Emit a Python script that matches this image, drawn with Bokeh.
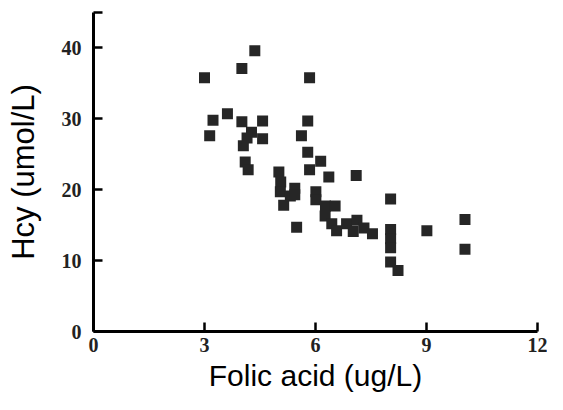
from bokeh.plotting import figure
from bokeh.models import Range1d, FixedTicker
from bokeh.embed import file_html
from bokeh.resources import INLINE

folic = [4.36, 4.01, 3.00, 5.84,
         3.23, 3.62, 3.14, 4.01, 4.57, 4.27, 4.57, 4.05, 4.15,
         4.10, 4.18, 5.01, 5.84, 5.79, 5.62, 5.79, 6.14, 6.36, 7.10,
         5.06, 5.44, 5.05, 5.32, 5.14, 5.44,
         5.49, 6.01, 6.01, 6.27, 6.53,
         6.26, 6.44, 6.57, 6.84, 7.02, 7.12, 7.31, 7.54,
         8.03, 8.03, 8.03, 8.03, 8.03, 8.23, 9.01, 10.04, 10.04]
hcy = [39.6, 37.1, 35.8, 35.8,
       29.8, 30.7, 27.6, 29.6, 29.7, 28.1, 27.2, 26.2, 27.3,
       23.9, 22.8, 22.5, 22.8, 29.7, 27.6, 25.3, 24.0, 21.8, 22.0,
       21.1, 20.2, 19.7, 19.1, 17.8, 19.3,
       14.7, 19.7, 18.6, 17.7, 17.7,
       16.3, 15.2, 14.2, 15.2, 14.1, 15.7, 14.6, 13.8,
       18.7, 14.4, 13.1, 11.8, 9.8, 8.6, 14.2, 15.8, 11.6]

x_ticks = [0, 3, 6, 9, 12]
y_ticks = [0, 10, 20, 30, 40, 45]
y_tick_labels = {0: "0", 10: "10", 20: "20", 30: "30", 40: "40", 45: ""}

p = figure(width=547, height=394, output_backend="svg", toolbar_location=None,
           x_range=Range1d(0, 12), y_range=Range1d(0, 45),
           min_border_left=93, min_border_right=10, min_border_top=12, min_border_bottom=62)
p.outline_line_color = None
p.grid.visible = False
p.background_fill_color = "white"

p.scatter(folic, hcy, marker="square", size=11, fill_color="#262626", line_color=None)

for ax in (p.xaxis[0], p.yaxis[0]):
    ax.axis_line_width = 3
    ax.axis_line_color = "black"
    ax.major_tick_in = 9
    ax.major_tick_out = 0
    ax.major_tick_line_width = 2.5
    ax.major_tick_line_color = "black"
    ax.minor_tick_line_color = None
    ax.major_label_text_font = "Liberation Serif"
    ax.major_label_text_font_style = "bold"
    ax.major_label_text_font_size = "20px"
    ax.major_label_text_color = "#222222"
    ax.axis_label_text_font = "Liberation Sans"
    ax.axis_label_text_font_style = "normal"
    ax.axis_label_text_color = "black"

p.xaxis[0].ticker = FixedTicker(ticks=x_ticks)
p.yaxis[0].ticker = FixedTicker(ticks=y_ticks)
p.yaxis[0].major_label_overrides = y_tick_labels

p.xaxis[0].axis_label = "Folic acid (ug/L)"
p.yaxis[0].axis_label = "Hcy (umol/L)"
p.xaxis[0].axis_label_text_font_size = "30px"
p.yaxis[0].axis_label_text_font_size = "31px"
p.xaxis[0].major_label_standoff = 6
p.yaxis[0].major_label_standoff = 12
p.xaxis[0].axis_label_standoff = 4
p.yaxis[0].axis_label_standoff = 18

open("out.html", "w").write(file_html(p, INLINE))
